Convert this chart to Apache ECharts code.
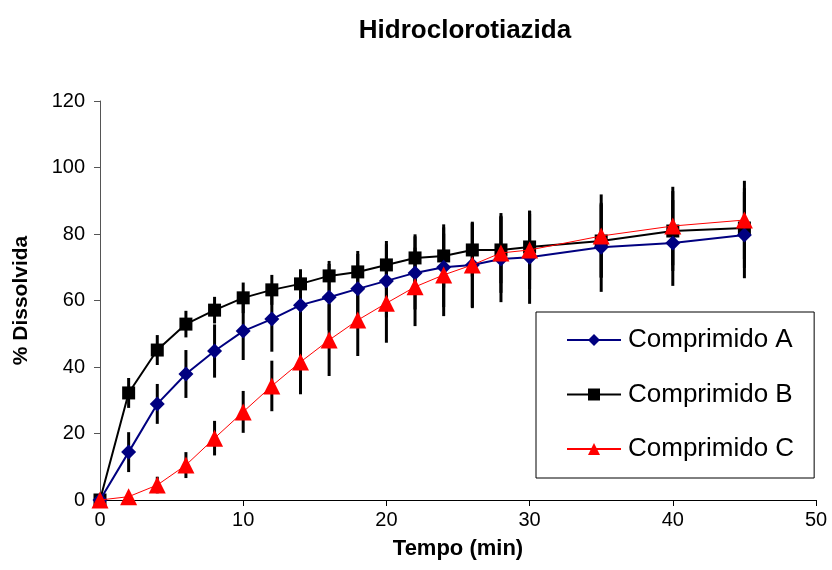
<!DOCTYPE html>
<html>
<head>
<meta charset="utf-8">
<script src="https://cdn.jsdelivr.net/npm/echarts@6/dist/echarts.min.js"></script>
<style>html,body{margin:0;padding:0;background:#fff}#c{width:832px;height:570px}</style>
</head>
<body>
<div id="c"></div>
<script>
const times = [0, 2, 4, 6, 8, 10, 12, 14, 16, 18, 20, 22, 24, 26, 28, 30, 35, 40, 45];
const seriesNames = ['Comprimido A', 'Comprimido B', 'Comprimido C'];
const meanA = [0, 14.4, 28.9, 37.9, 44.8, 50.8, 54.4, 58.6, 61.0, 63.5, 65.9, 68.3, 70.0, 70.7, 72.5, 73.0, 76.0, 77.3, 79.7];
const meanB = [0, 32.2, 45.1, 52.9, 57.1, 60.8, 63.2, 65.0, 67.4, 68.6, 70.7, 72.8, 73.4, 75.2, 75.2, 76.1, 77.9, 80.9, 81.8];
const meanC = [0, 1.0, 4.5, 10.5, 18.6, 26.5, 34.3, 41.5, 48.1, 54.1, 59.2, 64.1, 67.7, 70.7, 74.3, 75.2, 79.4, 82.4, 84.2];
const sdA = [0, 6, 6, 7.2, 8, 8.7, 9.8, 10, 10, 10.5, 11, 11, 12, 13, 13, 14, 13.4, 12.9, 13];
const sdB = [0, 4.5, 4.5, 4, 4, 4.6, 4.5, 4.4, 4.5, 6.3, 7.2, 7.1, 9.5, 8, 10, 10, 11, 12, 12];
const sdC = [0, 1, 2.5, 3.9, 5.2, 6.3, 7.6, 9.7, 10.8, 10.8, 11.9, 11.8, 12.4, 12.7, 12, 11.8, 12.5, 11.8, 11.8];
const yTicks = [0, 20, 40, 60, 80, 100, 120];
const xTicks = [0, 10, 20, 30, 40, 50];

const FONT = '"Liberation Sans", Arial, sans-serif';

function pts(mean) { return times.map((t, i) => [t, mean[i]]); }
function errs(mean, sd) { return times.map((t, i) => [t, mean[i] - sd[i], mean[i] + sd[i]]); }

function errSeries(mean, sd) {
  return {
    type: 'custom',
    silent: true,
    z: 1,
    data: errs(mean, sd),
    encode: { x: 0, y: [1, 2] },
    renderItem: function (params, api) {
      const x = api.value(0);
      const lo = api.coord([x, api.value(1)]);
      const hi = api.coord([x, api.value(2)]);
      return {
        type: 'line',
        shape: { x1: lo[0], y1: lo[1], x2: hi[0], y2: hi[1] },
        style: { stroke: '#000', lineWidth: 3 }
      };
    }
  };
}

const chart = echarts.init(document.getElementById('c'), null, { renderer: 'canvas' });
chart.setOption({
  animation: false,
  backgroundColor: '#fff',
  title: {
    text: 'Hidroclorotiazida',
    left: 460, top: 13, textAlign: 'center',
    textStyle: { fontFamily: FONT, fontWeight: 'bold', fontSize: 26, color: '#000' }
  },
  grid: { left: 100, top: 101, width: 716, height: 399, containLabel: false },
  legend: {
    orient: 'vertical',
    left: 536, top: 312,
    data: seriesNames,
    itemWidth: 54, itemHeight: 15, itemGap: 24.5,
    padding: [13, 20, 14, 30],
    borderColor: '#000', borderWidth: 1,
    textStyle: { fontFamily: FONT, fontSize: 26, color: '#000', lineHeight: 30, padding: [0, 0, 0, 2] }
  },
  xAxis: {
    type: 'value', min: xTicks[0], max: xTicks[xTicks.length - 1], interval: 10,
    name: 'Tempo (min)', nameLocation: 'middle', nameGap: 38,
    nameTextStyle: { fontFamily: FONT, fontWeight: 'bold', fontSize: 22, color: '#000' },
    axisLine: { lineStyle: { color: '#000', width: 1 } },
    axisTick: { inside: false, length: 6, lineStyle: { color: '#000' } },
    axisLabel: { fontFamily: FONT, fontSize: 20, color: '#000', margin: 10 },
    splitLine: { show: false }
  },
  yAxis: {
    type: 'value', min: yTicks[0], max: yTicks[yTicks.length - 1], interval: 20,
    name: '% Dissolvida', nameLocation: 'middle', nameGap: 68, nameRotate: 90,
    nameTextStyle: { fontFamily: FONT, fontWeight: 'bold', fontSize: 21, color: '#000' },
    axisLine: { show: true, lineStyle: { color: '#555', width: 1 } },
    axisTick: { show: true, inside: false, length: 6, lineStyle: { color: '#555' } },
    axisLabel: { fontFamily: FONT, fontSize: 20, color: '#000', margin: 15 },
    splitLine: { show: false }
  },
  series: [
    errSeries(meanA, sdA),
    errSeries(meanB, sdB),
    errSeries(meanC, sdC),
    {
      name: seriesNames[0], type: 'line', z: 4, data: pts(meanA),
      symbol: 'diamond', symbolSize: 15,
      lineStyle: { color: '#000080', width: 2 },
      itemStyle: { color: '#000080' }
    },
    {
      name: seriesNames[1], type: 'line', z: 3, data: pts(meanB),
      symbol: 'rect', symbolSize: 13,
      lineStyle: { color: '#000', width: 2 },
      itemStyle: { color: '#000' }
    },
    {
      name: seriesNames[2], type: 'line', z: 5, data: pts(meanC),
      symbol: 'triangle', symbolSize: 17,
      lineStyle: { color: '#ff0000', width: 1 },
      itemStyle: { color: '#ff0000' }
    }
  ]
});
</script>
</body>
</html>
